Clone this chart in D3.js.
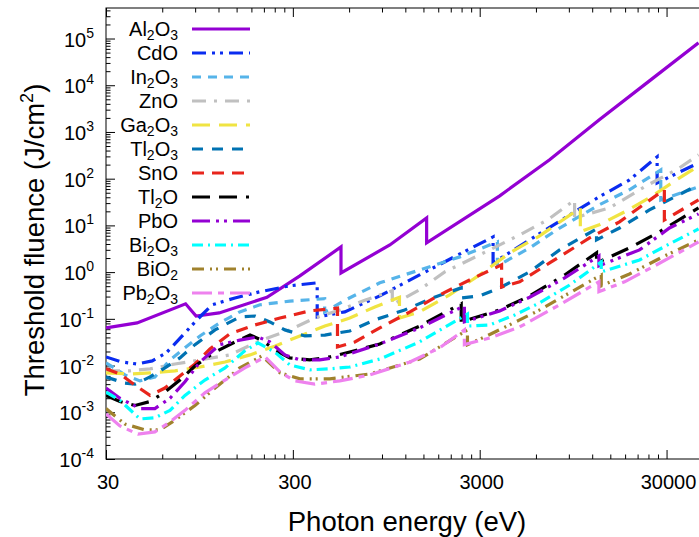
<!DOCTYPE html>
<html>
<head>
<meta charset="utf-8">
<script src="https://cdn.jsdelivr.net/npm/d3@7"></script>
<style>
  body { margin: 0; background: #fff; }
  text { font-family: "Liberation Sans", Arial, sans-serif; fill: #000; }
</style>
</head>
<body>
<svg id="chart"></svg>
<script>
// ---- data: [photon energy (eV), threshold fluence (J/cm2)] ----
var names = ["Al2O3", "CdO", "In2O3", "ZnO", "Ga2O3", "Tl2O3", "SnO", "Tl2O", "PbO", "Bi2O3", "BiO2", "Pb2O3"]

var al2o3 = [[30,0.064],[44,0.082],[80,0.21],[91,0.115],[121,0.134],[218,0.29],[327,0.83],[543,3.46],[543,0.96],[991,3.82],[1560,14.5],[1560,4.22],[3840,43],[7100,253],[13100,1820],[24300,12400],[44500,80900]]
var cdo = [[30,0.0153],[36.5,0.0119],[44,0.0108],[53,0.0126],[63,0.0186],[75,0.039],[92,0.095],[111,0.20],[147,0.28],[200,0.38],[289,0.51],[405,0.59],[405,0.110],[569,0.141],[876,0.31],[1430,0.87],[2350,2.45],[3538,5.67],[3538,1.57],[5550,4.89],[9090,16.8],[13100,41],[19000,94],[26711,293],[26711,81],[44500,218]]
var in2o3 = [[30,0.0114],[37.9,0.0063],[45.6,0.0047],[54.8,0.0057],[66,0.0132],[79.4,0.024],[95.5,0.043],[122,0.082],[156,0.141],[200,0.20],[289,0.24],[444,0.27],[444,0.141],[569,0.25],[876,0.59],[1430,1.11],[2350,2.12],[3730,4.43],[3730,1.36],[5550,3.30],[8030,8.8],[13100,27.5],[19000,58],[27940,154],[27940,35],[44500,67]]
var zno = [[30,0.0077],[40.3,0.0077],[51.6,0.0085],[70.2,0.0108],[95.5,0.0132],[138,0.0169],[200,0.034],[289,0.058],[393,0.104],[535,0.155],[728,0.25],[1022,0.40],[1022,0.20],[1430,0.42],[1950,1.01],[3000,2.34],[4910,6.27],[6930,13.1],[9659,35],[9659,14.5],[14870,23.7],[22880,67],[35200,170],[44500,323]]
var ga2o3 = [[30,0.0070],[40.3,0.0066],[51.6,0.0070],[70.2,0.0077],[95.5,0.0093],[130,0.0119],[177,0.0169],[240,0.026],[327,0.043],[445,0.070],[605,0.104],[824,0.18],[1116,0.29],[1116,0.104],[1430,0.141],[2070,0.325],[3000,0.87],[4340,2.58],[6280,5.96],[10367,23.7],[10367,7.3],[13100,10.3],[17900,19.5],[24300,39],[35200,104],[44500,188]]
var tl2o3 = [[30,0.0057],[37.9,0.0042],[42.9,0.0040],[51.6,0.0057],[62,0.0089],[74.6,0.0146],[89.8,0.028],[115,0.058],[156,0.110],[188,0.115],[226,0.086],[272,0.058],[348,0.043],[445,0.045],[605,0.055],[824,0.095],[1190,0.155],[1720,0.29],[2389,0.46],[2389,0.28],[3000,0.31],[3840,0.46],[5550,1.01],[8030,2.99],[12658,8.4],[12658,4.89],[16800,8.8],[24300,21.5],[44500,74]]
var sno = [[30,0.0085],[35.6,0.0066],[42.9,0.0038],[51.6,0.0023],[62,0.0033],[74.6,0.0060],[89.8,0.0108],[108,0.0226],[138,0.048],[188,0.074],[256,0.104],[370,0.148],[520,0.17],[520,0.025],[644,0.032],[876,0.064],[1270,0.141],[1830,0.325],[2650,0.68],[3929,1.43],[3929,0.48],[4910,0.62],[7100,1.57],[11620,5.40],[16800,11.9],[22900,29],[29200,58],[29200,13.1],[44500,35]]
var tl2o = [[30,0.0023],[35.6,0.0017],[42.9,0.0014],[51.6,0.0017],[62,0.0027],[74.6,0.0049],[89.8,0.0098],[115,0.0195],[147,0.032],[177,0.045],[205,0.035],[240,0.0216],[289,0.0146],[370,0.0132],[473,0.0153],[605,0.0195],[876,0.029],[1430,0.070],[2389,0.21],[2389,0.086],[3840,0.155],[5550,0.31],[8550,0.87],[12658,2.58],[12658,1.57],[19000,3.30],[27500,7.3],[44500,23.7]]
var pbo = [[30,0.0033],[35.6,0.0020],[45.6,0.0012],[54.8,0.0012],[66,0.0020],[79.4,0.0045],[95.5,0.0119],[122,0.028],[156,0.035],[195,0.041],[226,0.032],[272,0.0169],[327,0.0132],[418,0.0132],[535,0.0153],[876,0.029],[1430,0.064],[2484,0.19],[2484,0.086],[3840,0.148],[5550,0.29],[8550,0.75],[13035,2.22],[13035,1.36],[21500,2.99],[31100,8.8],[44500,17.6]]
var bi2o3 = [[30,0.0027],[35.6,0.0018],[45.6,0.00072],[54.8,0.00076],[66,0.0011],[79.4,0.0023],[101.5,0.0049],[130,0.0089],[166,0.0206],[195,0.0305],[240,0.0195],[289,0.0103],[370,0.0081],[473,0.0085],[605,0.0093],[876,0.0138],[1430,0.032],[2580,0.127],[2580,0.070],[3390,0.074],[4620,0.121],[6280,0.22],[9090,0.53],[13419,1.65],[13419,1.01],[21500,1.82],[31100,4.02],[44500,8.4]]
var bio2 = [[30,0.0012],[37.9,0.00056],[48.5,0.00042],[58.3,0.00042],[70.2,0.00068],[89.8,0.0014],[115,0.0033],[156,0.0089],[205,0.0161],[256,0.0070],[327,0.0052],[473,0.0052],[774,0.0066],[1430,0.0138],[2580,0.058],[2580,0.028],[3190,0.041],[4910,0.095],[6280,0.155],[9090,0.36],[13419,0.87],[13419,0.51],[19000,0.91],[29300,2.22],[44500,4.89]]
var pb2o3 = [[30,0.00092],[35.6,0.00051],[44.5,0.00034],[54.8,0.00038],[66,0.00062],[79.4,0.0011],[101.5,0.0026],[130,0.0049],[166,0.0089],[213,0.0153],[256,0.0073],[307,0.0047],[393,0.0040],[535,0.0047],[774,0.0063],[1270,0.0119],[1830,0.024],[2484,0.058],[2484,0.028],[3390,0.039],[4910,0.067],[8030,0.20],[13035,0.62],[13035,0.38],[17900,0.62],[25900,1.36],[44500,4.43]]

var seriesData = [al2o3, cdo, in2o3, zno, ga2o3, tl2o3, sno, tl2o, pbo, bi2o3, bio2, pb2o3]

var xTickValues = [30, 300, 3000, 30000]
var xTickLabels = ["30", "300", "3000", "30000"]
var yTickExponents = [-4, -3, -2, -1, 0, 1, 2, 3, 4, 5]

// ---- styles ----
var colors = ["#9400d3", "#0a2cf0", "#56b4e9", "#c0c0c0", "#f0e442", "#0072b2", "#e8251c", "#000000", "#9400d3", "#00ffff", "#a0822d", "#ee82ee"]
var dashes = [null, "14,6,3,5,3,6", "9,7", "14,8,3,8", "18,9", "11,9", "12,8", "18,9,18,9,3,9", "18,6,3,5,3,6", "11,5,2,5", "12,6,2,4,2,6", "20,6,6,6"]

var w = 699
var h = 537
var pLeft = 106, pRight = 708, pTop = 8, pBottom = 459

var svg = d3.select("#chart").attr("width", w).attr("height", h)

var x = d3.scaleLog().domain([30, 50000]).range([pLeft, pRight])
var y = d3.scaleLog().domain([1e-4, 4.5e5]).range([pBottom, pTop])

svg.append("clipPath").attr("id", "clip")
  .append("rect").attr("x", pLeft).attr("y", pTop)
  .attr("width", pRight - pLeft).attr("height", pBottom - pTop)

// minor ticks
var xMinor = []
xTickValues.forEach(function(v) {
  for (var k = 2; k <= 9; k++) if (v * k <= 50000) xMinor.push(v * k)
})
var yMinor = []
yTickExponents.forEach(function(e) {
  for (var k = 2; k <= 9; k++) if (k * Math.pow(10, e) <= 4.5e5) yMinor.push(k * Math.pow(10, e))
})
var yMajor = yTickExponents.map(function(e) { return Math.pow(10, e) })

function tickAxis(axis, vals, size, tx, ty) {
  var g = svg.append("g")
    .attr("transform", "translate(" + tx + "," + ty + ")")
    .call(axis.tickValues(vals).tickSize(size).tickSizeOuter(0).tickFormat(""))
  g.select(".domain").remove()
  g.selectAll("line").attr("stroke", "#000").attr("stroke-width", 1)
}
tickAxis(d3.axisBottom(x), xTickValues, -9, 0, pBottom)
tickAxis(d3.axisBottom(x), xMinor, -4.5, 0, pBottom)
tickAxis(d3.axisTop(x), xTickValues, -9, 0, pTop)
tickAxis(d3.axisTop(x), xMinor, -4.5, 0, pTop)
tickAxis(d3.axisLeft(y), yMajor, -9, pLeft, 0)
tickAxis(d3.axisLeft(y), yMinor, -4.5, pLeft, 0)
tickAxis(d3.axisRight(y), yMajor, -9, pRight, 0)
tickAxis(d3.axisRight(y), yMinor, -4.5, pRight, 0)

// frame
svg.append("rect")
  .attr("x", pLeft).attr("y", pTop)
  .attr("width", pRight - pLeft).attr("height", pBottom - pTop)
  .attr("fill", "none").attr("stroke", "#000").attr("stroke-width", 1)

// x tick labels
svg.append("g").selectAll("text")
  .data(xTickValues)
  .enter()
  .append("text")
  .attr("x", function(d) { return x(d) + 2 })
  .attr("y", 489)
  .attr("text-anchor", "middle")
  .style("font-size", "20px")
  .text(function(d, i) { return xTickLabels[i] })

// y tick labels 10^n
var yl = svg.append("g").selectAll("text")
  .data(yTickExponents)
  .enter()
  .append("text")
  .attr("x", 94)
  .attr("y", function(d) { return y(Math.pow(10, d)) + 8 })
  .attr("text-anchor", "end")
  .style("font-size", "20px")
yl.append("tspan").text("10")
yl.append("tspan").attr("dy", -9).style("font-size", "14px").text(function(d) { return d })

// axis titles
svg.append("text")
  .attr("x", (pLeft + pRight) / 2)
  .attr("y", 531)
  .attr("text-anchor", "middle")
  .style("font-size", "27.5px")
  .text("Photon energy (eV)")

var yt = svg.append("text")
  .attr("transform", "translate(44,240) rotate(-90)")
  .attr("text-anchor", "middle")
  .style("font-size", "27.5px")
yt.append("tspan").text("Threshold fluence (J/cm")
yt.append("tspan").attr("dy", -11).style("font-size", "18px").text("2")
yt.append("tspan").attr("dy", 11).text(")")

// curves
var line = d3.line()
  .x(function(d) { return x(d[0]) })
  .y(function(d) { return y(d[1]) })

svg.append("g").attr("clip-path", "url(#clip)")
  .selectAll("path")
  .data(seriesData)
  .enter()
  .append("path")
  .attr("d", line)
  .attr("fill", "none")
  .attr("stroke", function(d, i) { return colors[i] })
  .attr("stroke-width", 3.2)
  .attr("stroke-dasharray", function(d, i) { return dashes[i] })

// legend, digits as subscripts
var leg = svg.append("g").selectAll("g")
  .data(names)
  .enter()
  .append("g")
  .attr("transform", function(d, i) { return "translate(0," + (29 + 24 * i) + ")" })

leg.append("line")
  .attr("x1", 192).attr("x2", 250)
  .attr("stroke", function(d, i) { return colors[i] })
  .attr("stroke-width", 3.2)
  .attr("stroke-dasharray", function(d, i) { return dashes[i] })

leg.append("text")
  .attr("x", 178)
  .attr("y", 7)
  .attr("text-anchor", "end")
  .style("font-size", "20px")
  .each(function(d) {
    var t = d3.select(this)
    var parts = d.match(/[A-Za-z]+|\d+/g)
    var sub = false
    parts.forEach(function(p) {
      var isNum = /\d/.test(p)
      var ts = t.append("tspan").text(p)
      if (isNum && !sub) { ts.attr("dy", 4).style("font-size", "14px"); sub = true }
      else if (!isNum && sub) { ts.attr("dy", -4); sub = false }
    })
  })
</script>
</body>
</html>
